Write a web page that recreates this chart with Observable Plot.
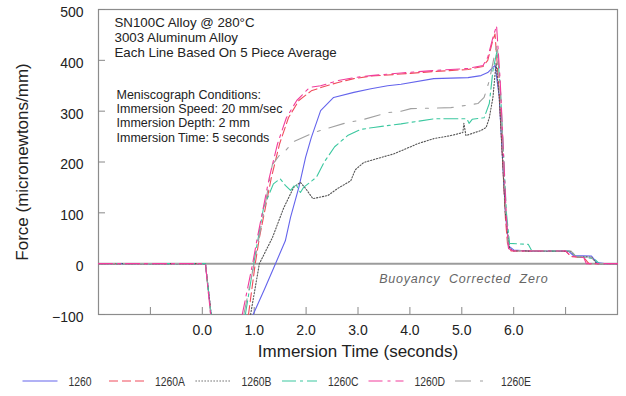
<!DOCTYPE html>
<html>
<head>
<meta charset="utf-8">
<script src="https://cdn.jsdelivr.net/npm/d3@7"></script>
<script src="https://cdn.jsdelivr.net/npm/@observablehq/plot@0.6"></script>
<style>
  html, body { margin: 0; padding: 0; background: #fff; }
  #chart svg { display: block; }
  #legend svg { display: block; }
</style>
</head>
<body>
<div id="chart"></div>
<div id="legend"></div>
<script>
// ---- Data ----
const seriesNames = ["1260", "1260A", "1260B", "1260C", "1260D", "1260E"];
const seriesColors = ["#6464ec", "#f04c5c", "#555555", "#3cc8a0", "#f23c9c", "#a0a0a0"];
const seriesDashes = [null, "9,4", "1.3,1.7", "14,4,3,4", "14,5,3,5", "16,9,3,9"];

// [time (s), force (micronewtons/mm)]; NaN = line leaves the plotted range (below -100)
const s1260 = [[-2,0],[0.06,0],[0.17,-100],[NaN,NaN],[0.98,-100],[1.2,-50],[1.41,0],[1.6,45],[1.7,91],[1.86,150],[1.99,209],[2.1,248],[2.28,301],[2.53,327],[2.92,337],[3.25,344],[3.57,350],[3.83,353],[4.46,364],[5.12,366],[5.37,370],[5.5,376],[5.6,386],[5.64,390],[5.72,330],[5.84,100],[5.9,35],[6.0,27],[6.3,25],[7.05,25],[7.15,16],[7.5,15],[7.6,2],[7.75,0],[8,0]];
const s1260A = [[-2,0],[0.06,0],[0.17,-100],[NaN,NaN],[0.89,-100],[1.02,0],[1.1,51],[1.33,169],[1.49,236],[1.66,287],[1.86,321],[2.1,340],[2.3,347],[2.6,356],[2.92,364],[3.25,369],[3.83,373],[4.46,378],[5.12,382],[5.41,388],[5.5,400],[5.6,440],[5.64,452],[5.72,340],[5.84,90],[5.88,40],[5.95,25],[7.0,25],[7.1,14],[7.35,12],[7.45,0],[8,0]];
const s1260B = [[-2,0],[0.06,0],[0.17,-100],[NaN,NaN],[0.93,-100],[1.1,0],[1.35,51],[1.57,110],[1.76,150],[1.89,160],[1.99,148],[2.13,128],[2.42,134],[2.61,148],[2.86,163],[2.95,185],[3.11,199],[3.38,207],[3.69,216],[3.83,222],[4.15,236],[4.46,246],[4.79,252],[5.02,258],[5.04,276],[5.08,252],[5.37,262],[5.47,268],[5.53,287],[5.6,327],[5.66,395],[5.72,330],[5.84,100],[5.92,30],[6.0,25],[7.1,24],[7.2,14],[7.5,13],[7.6,0],[8,0]];
const s1260C = [[-2,0],[0.06,0],[0.17,-100],[NaN,NaN],[0.83,-100],[0.99,0],[1.18,110],[1.37,157],[1.5,167],[1.6,154],[1.7,144],[1.8,157],[1.89,140],[1.95,150],[2.2,170],[2.35,200],[2.55,230],[2.8,252],[3.05,264],[3.3,268],[3.6,272],[3.83,275],[4.46,285],[5.1,285],[5.14,276],[5.2,284],[5.43,287],[5.53,315],[5.6,380],[5.68,419],[5.74,350],[5.86,100],[5.92,40],[6.28,38],[6.35,25],[7.1,25],[7.2,14],[7.55,10],[7.65,0],[8,0]];
const s1260D = [[-2,0],[0.06,0],[0.16,-100],[NaN,NaN],[0.77,-100],[0.97,0],[1.06,51],[1.29,169],[1.45,236],[1.62,287],[1.82,321],[2.07,347],[2.28,350],[2.61,360],[2.92,366],[3.25,370],[3.83,375],[4.46,380],[5.12,384],[5.41,390],[5.5,406],[5.6,445],[5.67,468],[5.74,360],[5.86,90],[5.9,30],[6.0,25],[7.0,25],[7.1,15],[7.35,12],[7.4,0],[8,0]];
const s1260E = [[-2,0],[0.06,0],[0.16,-100],[NaN,NaN],[0.8,-100],[1.0,0],[1.2,110],[1.35,195],[1.5,215],[1.6,222],[1.76,240],[2.15,258],[2.47,268],[2.8,278],[3.05,282],[3.57,297],[3.83,300],[4.02,305],[4.79,307],[5.31,315],[5.43,327],[5.53,360],[5.62,405],[5.68,433],[5.74,350],[5.85,100],[5.9,30],[6.0,26],[7.1,25],[7.2,14],[7.5,12],[7.6,0],[8,0]];
const seriesData = [s1260, s1260A, s1260B, s1260C, s1260D, s1260E];

const yTicks = [-100, 0, 100, 200, 300, 400, 500];
const xTicks = [-1, 0, 1, 2, 3, 4, 5, 6, 7];
const xTickLabels = [0, 1, 2, 3, 4, 5, 6];

const xTitle = "Immersion Time (seconds)";
const yTitle = "Force (micronewtons/mm)";
const noteTop = ["SN100C Alloy @ 280°C", "3003 Aluminum Alloy", "Each Line Based On 5 Piece Average"];
const noteConditions = ["Meniscograph Conditions:", "Immersion Speed: 20 mm/sec", "Immersion Depth: 2 mm", "Immersion Time: 5 seconds"];
const zeroNote = "Buoyancy  Corrected  Zero";

// draw order: put 1260D (pink) on top
const drawOrder = [0, 1, 2, 3, 5, 4];
const lineMarks = drawOrder.map(i => Plot.line(seriesData[i], {
  x: d => d[0], y: d => d[1],
  stroke: seriesColors[i], strokeWidth: 1.1,
  strokeDasharray: seriesDashes[i] || undefined
}));

const font = "'Liberation Sans', Arial, sans-serif";

const chart = Plot.plot({
  width: 626, height: 365,
  marginTop: 9, marginLeft: 98, marginRight: 9, marginBottom: 51,
  x: {domain: [-2, 8]},
  y: {domain: [-100, 500]},
  style: {fontFamily: font, fontSize: "14px", color: "#222", background: "#fff"},
  marks: [
    Plot.ruleY([0], {stroke: "#9c9c9c", strokeWidth: 2}),
    Plot.frame({stroke: "#8c8c8c", strokeWidth: 1.2}),
    Plot.axisY(yTicks, {tickSize: 0, tickPadding: 15, dy: 3, label: null, fontSize: 14}),
    Plot.axisY(yTicks, {tickSize: -7, tickFormat: () => "", label: null, stroke: "#888"}),
    Plot.axisX(xTicks, {tickSize: -7, tickFormat: () => "", label: null, stroke: "#888"}),
    Plot.axisX(xTickLabels, {tickSize: 0, tickPadding: 11, tickFormat: d3.format(".1f"), label: null, fontSize: 14}),
    ...lineMarks,
    Plot.text([xTitle], {frameAnchor: "bottom", dy: 42, textAnchor: "middle", fontSize: 17, fill: "#222"}),
    Plot.text([yTitle], {frameAnchor: "left", textAnchor: "middle", rotate: -90, dx: -76, fontSize: 17, fill: "#222"}),
    Plot.text([noteTop.join("\n")], {frameAnchor: "top-left", dx: 16, dy: 7, textAnchor: "start", lineAnchor: "top", fontSize: 13.3, lineHeight: 1.13, fill: "#222"}),
    Plot.text([noteConditions.join("\n")], {frameAnchor: "top-left", dx: 18, dy: 79, textAnchor: "start", lineAnchor: "top", fontSize: 12.5, lineHeight: 1.15, fill: "#222"}),
    Plot.text([zeroNote], {frameAnchor: "bottom-right", dx: -69, dy: -32, textAnchor: "end", fontSize: 12.5, fontStyle: "italic", fill: "#666"})
  ]
});
chart.querySelectorAll("text").forEach(t => {
  if (t.textContent === zeroNote) t.setAttribute("letter-spacing", "0.8");
});
document.getElementById("chart").appendChild(chart);

// ---- Legend below the chart ----
const leg = d3.select("#legend").append("svg").attr("width", 626).attr("height", 31);
seriesNames.forEach((name, i) => {
  const x0 = 22.5 + 86.5 * i;
  const g = leg.append("g");
  g.append("line").attr("x1", x0).attr("x2", x0 + 35).attr("y1", 16).attr("y2", 16)
    .attr("stroke", seriesColors[i]).attr("stroke-width", 1.1)
    .attr("stroke-dasharray", seriesDashes[i]);
  g.append("text")
    .attr("transform", `translate(${x0 + 46},16) scale(0.8,1)`)
    .attr("dy", "0.35em")
    .attr("font-family", font)
    .attr("font-size", 13).attr("fill", "#333").text(name);
});
</script>
</body>
</html>
